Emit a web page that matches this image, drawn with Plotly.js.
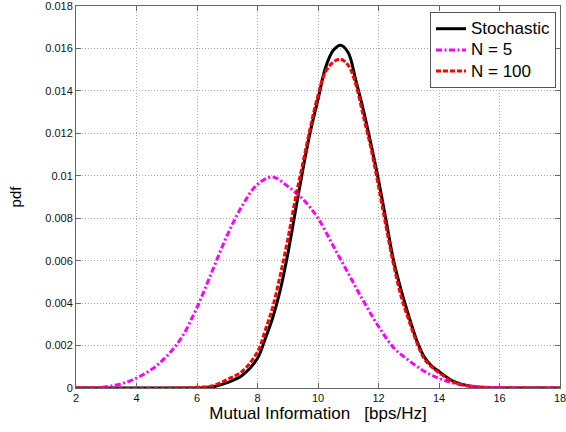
<!DOCTYPE html>
<html>
<head>
<meta charset="utf-8">
<script src="https://cdn.plot.ly/plotly-3.0.1.min.js"></script>
<style>html,body{margin:0;padding:0;background:#fff;}#chart{width:566px;height:432px;}</style>
</head>
<body>
<div id="chart"></div>
<script>
// Series names
const seriesNames = ["Stochastic", "N = 5", "N = 100"];

// Tick values / labels
const xTickVals = [2, 4, 6, 8, 10, 12, 14, 16, 18];
const xTickText = ["2", "4", "6", "8", "10", "12", "14", "16", "18"];
const yTickVals = [0, 0.002, 0.004, 0.006, 0.008, 0.010, 0.012, 0.014, 0.016, 0.018];
const yTickText = ["0", "0.002", "0.004", "0.006", "0.008", "0.01", "0.012", "0.014", "0.016", "0.018"];

// Stochastic (black)
const stochX = [2, 5, 6, 6.5, 7, 7.5, 8, 8.25, 8.5, 8.75, 9, 9.25, 9.5, 9.75, 10, 10.25, 10.5, 10.75, 11, 11.25, 11.5, 11.75, 12, 12.25, 12.5, 12.75, 13, 13.25, 13.5, 13.75, 14, 14.5, 15, 15.5, 16, 18];
const stochY = [0, 0, 0, 0.00005, 0.00025, 0.0006, 0.0014, 0.0023, 0.0033, 0.0046, 0.0063, 0.0083, 0.0103, 0.0121, 0.0136, 0.0151, 0.0159, 0.01615, 0.0158, 0.0145, 0.0131, 0.0115, 0.0098, 0.0079, 0.006, 0.0046, 0.0034, 0.0023, 0.0015, 0.00105, 0.00078, 0.0003, 0.0001, 0.00002, 0, 0];

// N = 5 (magenta)
const n5X = [2, 2.5, 3, 3.5, 4, 4.5, 5, 5.5, 6, 6.5, 7, 7.5, 8, 8.5, 9, 9.5, 10, 10.5, 11, 11.5, 12, 12.5, 13, 13.5, 14, 14.5, 15, 15.5, 16, 17, 18];
const n5Y = [0, 0.00001, 0.00006, 0.0002, 0.00047, 0.00088, 0.0015, 0.0024, 0.0038, 0.0055, 0.0072, 0.0086, 0.0096, 0.00994, 0.0095, 0.0089, 0.008, 0.0067, 0.0054, 0.0041, 0.0029, 0.0019, 0.0013, 0.0008, 0.00045, 0.00022, 0.0001, 0.00004, 0.00002, 0, 0];

// N = 100 (red)
const n100X = [2, 5.5, 6, 6.5, 7, 7.5, 8, 8.25, 8.5, 8.75, 9, 9.25, 9.5, 9.75, 10, 10.25, 10.5, 10.75, 11, 11.25, 11.5, 11.75, 12, 12.25, 12.5, 12.75, 13, 13.25, 13.5, 13.75, 14, 14.5, 15, 15.5, 16, 18];
const n100Y = [0, 0, 0.00003, 0.0001, 0.0004, 0.0008, 0.0017, 0.0027, 0.0038, 0.0053, 0.007, 0.0089, 0.0106, 0.0123, 0.0138, 0.0149, 0.01535, 0.01549, 0.0152, 0.0143, 0.0128, 0.0113, 0.0095, 0.0076, 0.0058, 0.0043, 0.0032, 0.0022, 0.0014, 0.001, 0.00072, 0.00026, 0.00008, 0.00002, 0, 0];

const traces = [
  {x: stochX, y: stochY, name: '<span style="font-size:17px">' + seriesNames[0] + '</span>', mode: 'lines', line: {color: '#000000', width: 3, shape: 'spline', smoothing: 1}},
  {x: n5X, y: n5Y, name: '<span style="font-size:17px">' + seriesNames[1] + '</span>', mode: 'lines', line: {color: '#ff00ff', width: 3, dash: '6px,2.5px,2px,2.5px', shape: 'spline', smoothing: 1}},
  {x: n100X, y: n100Y, name: '<span style="font-size:17px">' + seriesNames[2] + '</span>', mode: 'lines', line: {color: '#ff0000', width: 3, dash: '5px,2px', shape: 'spline', smoothing: 1}}
];

const FONT = 'Arial, "Liberation Sans", Helvetica, sans-serif';

const axisCommon = {
  showline: true, linecolor: '#666', linewidth: 1, mirror: 'allticks',
  ticks: 'inside', ticklen: 5, tickcolor: '#666',
  showgrid: true, gridcolor: '#aaaaaa', griddash: '1px,2px', gridwidth: 1,
  zeroline: false, tickmode: 'array', ticklabeloverflow: 'allow',
  tickfont: {family: FONT, size: 11, color: '#111'}
};

const layout = {
  width: 566, height: 432,
  margin: {l: 76, r: 6, t: 6, b: 44},
  paper_bgcolor: '#fff', plot_bgcolor: '#fff',
  showlegend: true,
  legend: {
    x: 0.9917, y: 0.984, xanchor: 'right', yanchor: 'top',
    bgcolor: '#fff', bordercolor: '#555', borderwidth: 1,
    font: {family: FONT, size: 14, color: '#000'},
    tracegroupgap: 0, itemwidth: 30
  },
  xaxis: Object.assign({}, axisCommon, {
    range: [2, 18], tickvals: xTickVals, ticktext: xTickText,
    title: {text: 'Mutual Information   [bps/Hz]', standoff: 3, font: {family: FONT, size: 17, color: '#000'}}
  }),
  yaxis: Object.assign({}, axisCommon, {
    range: [0, 0.018], tickvals: yTickVals, ticktext: yTickText,
    title: {text: 'pdf', standoff: 20, font: {family: FONT, size: 15, color: '#000'}}
  })
};

Plotly.newPlot('chart', traces, layout, {displayModeBar: false, staticPlot: true});
</script>
</body>
</html>
